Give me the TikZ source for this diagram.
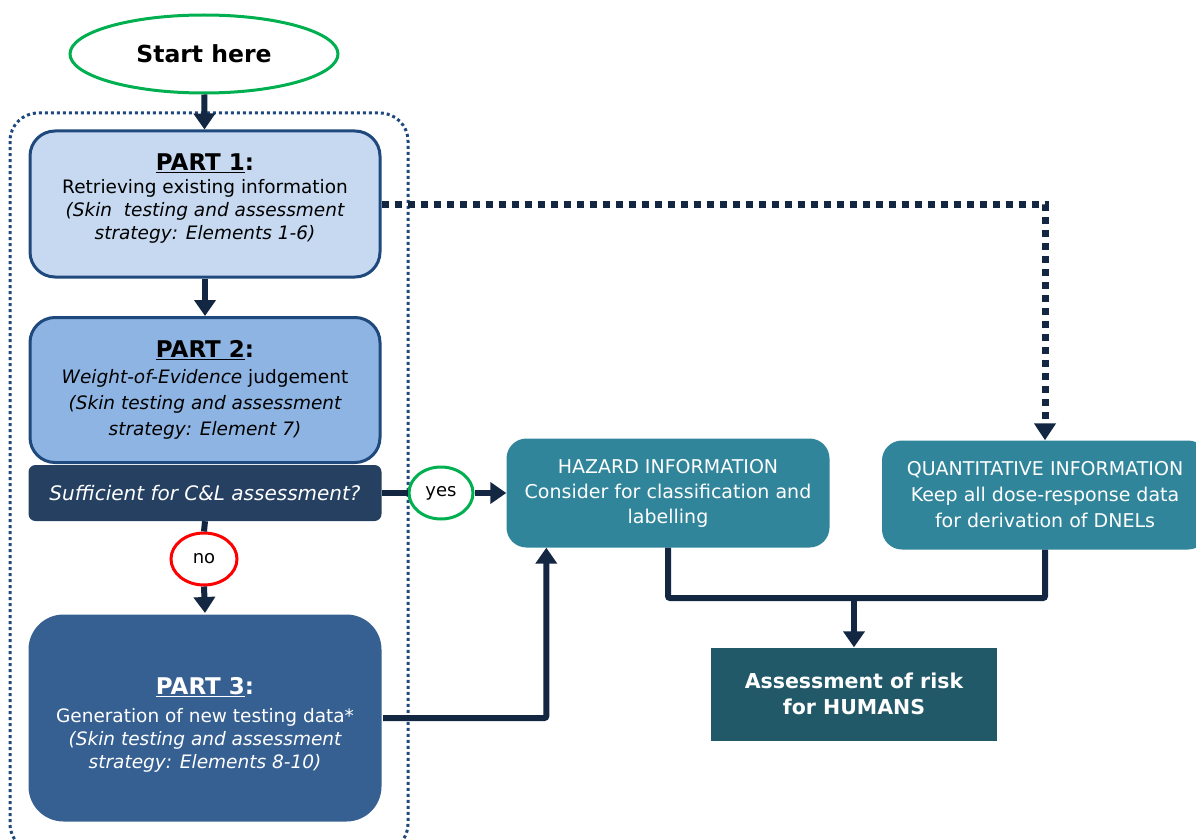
\documentclass[tikz,border=0pt]{standalone}
\usepackage{fontspec}
\setmainfont{DejaVu Sans}
\usetikzlibrary{arrows.meta,shapes.geometric,positioning}

\definecolor{startgreen}{RGB}{0,176,80}
\definecolor{nored}{RGB}{255,0,0}
\definecolor{navy}{RGB}{19,38,66}
\definecolor{partedge}{RGB}{31,73,125}
\definecolor{partone}{RGB}{198,217,241}
\definecolor{parttwo}{RGB}{141,180,226}
\definecolor{partthree}{RGB}{55,96,146}
\definecolor{askbar}{RGB}{38,64,98}
\definecolor{infoteal}{RGB}{49,133,155}
\definecolor{riskteal}{RGB}{33,89,104}

\newcommand{\parttitle}[1]{{\bfseries\fontsize{23}{27}\selectfont\underline{#1}:}}

\tikzset{
  partbox/.style={draw=partedge, line width=3pt, rounded corners=25pt,
    minimum width=350pt, align=center, inner sep=0pt,
    font=\fontsize{18.5}{23}\selectfont},
  infobox/.style={fill=infoteal, rounded corners=20pt, text=white,
    minimum width=323pt, minimum height=109pt, align=center, inner sep=0pt,
    font=\fontsize{19}{25}\selectfont},
  answer/.style={ellipse, draw, line width=3pt, fill=white,
    minimum width=64pt, minimum height=52pt, inner sep=0pt,
    font=\fontsize{18}{20}\selectfont},
  link/.style={draw=navy, line width=6pt},
  arr/.style={link, -{Triangle[width=21pt,length=16pt]}},
  dotarr/.style={draw=navy, line width=7pt, dash pattern=on 7pt off 6pt,
    -{Triangle[width=21pt,length=17pt]}}
}

\begin{document}
\begin{tikzpicture}[x=1pt,y=-1pt]
\useasboundingbox (0,0) rectangle (1196,840);

% container round the three parts
\draw[partedge, line width=3pt, dash pattern=on 3pt off 3pt, rounded corners=28pt]
  (10,113) rectangle (408,852);

\node[ellipse, draw=startgreen, line width=3pt, minimum width=268pt,
  minimum height=78pt, font=\bfseries\fontsize{23.5}{28}\selectfont] (start) at (204,54) {Start here};

\node[partbox, fill=partone, minimum height=146pt] (part1) at (205,204)
  {\parttitle{PART 1}\\
   Retrieving existing information\\
   \itshape (Skin~ testing and assessment\\
   \itshape strategy: Elements 1-6)\\[-8pt]};

\node[partbox, fill=parttwo, minimum height=145pt,
  font=\fontsize{18.5}{26}\selectfont] (part2) at (205,390)
  {\parttitle{PART 2}\\
   \textit{Weight-of-Evidence} judgement\\
   \itshape (Skin testing and assessment\\
   \itshape strategy: Element 7)};

\node[fill=askbar, rounded corners=7pt, minimum width=353pt, minimum height=56pt,
  text=white, font=\itshape\fontsize{20}{24}\selectfont] (ask) at (205,493)
  {Sufficient for C\&L assessment?};

\node[answer, draw=startgreen] (yes) at (441,493) {yes};
\node[answer, draw=nored, minimum width=66pt] (no) at (204,559) {no};

\node[partbox, draw=none, fill=partthree, rounded corners=35pt, minimum width=353pt,
  minimum height=207pt, text=white] (part3) at (205,718)
  {\rule{0pt}{30pt}\parttitle{PART 3}\\[5pt]
   Generation of new testing data*\\
   \itshape (Skin testing and assessment\\
   \itshape strategy: Elements 8-10)};

\node[infobox] (hazard) at (668,493)
  {HAZARD INFORMATION\\ Consider for classification and\\ labelling};
\node[infobox, minimum width=326pt, font=\fontsize{19}{26}\selectfont] (quant) at (1045,495)
  {QUANTITATIVE INFORMATION\\ Keep all dose-response data\\ for derivation of DNELs};

\node[fill=riskteal, minimum width=286pt, minimum height=93pt, text=white,
  align=center, font=\bfseries\fontsize{20.5}{26}\selectfont] (risk) at (854,694)
  {Assessment of risk\\ for HUMANS};

\coordinate (merge) at (854,598);

\draw[arr] (start) -- (part1);
\draw[arr] (part1) -- (part2);
\draw[link] (ask.east) -- (yes.west);
\draw[arr] (yes.east) -- (hazard.west);
\draw[link] (ask.south) -- (no.north);
\draw[arr] (no.south) -- (part3.north);
\draw[arr, rounded corners=2pt] (part3.east) -| ([xshift=40pt]hazard.south west);
\draw[dotarr] (part1.east) -| (quant.north);
\draw[link, rounded corners=2pt] (hazard.south) |- (merge) -| (quant.south);
\draw[arr] (merge) -- (risk.north);
\end{tikzpicture}
\end{document}
